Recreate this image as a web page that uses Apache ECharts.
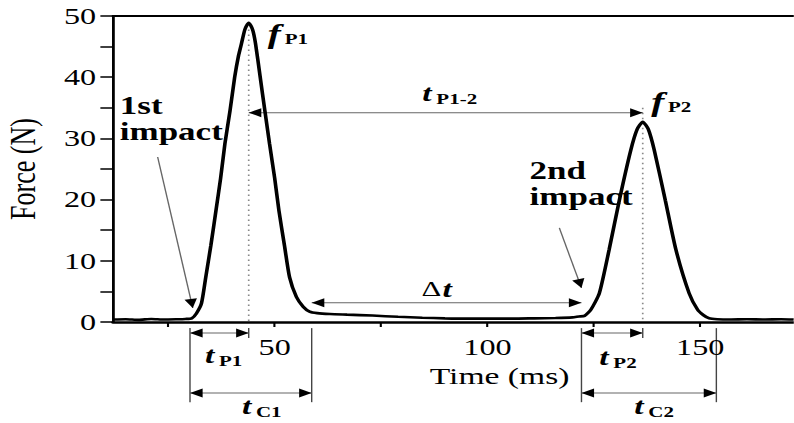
<!DOCTYPE html>
<html lang="en">

<head>
    <meta charset="UTF-8">
    <title>Force - time curve, two impacts</title>
    <script src="https://cdn.jsdelivr.net/npm/echarts@6/dist/echarts.min.js"></script>
    <style>
        body { margin: 0; background: #fff; }
        /* the source figure is stretched sideways, so the chart is too */
        #main { width: 567px; height: 423px; transform: scaleX(1.4); transform-origin: 0 0; }
    </style>
</head>

<body>
    <div id="main"></div>
    <script>
        // curve (ms, N)
        var time = [12, 15, 18, 21, 24, 27, 29, 30.5, 31.6, 32.8,
            33.8, 35, 36.2, 37.3, 38.3, 39.5, 40.6, 41.5, 42.2, 43,
            43.9, 44.8, 45.5, 46.6, 47.7, 48.8, 50, 51, 52.3, 53.5,
            55.1, 56.7, 58.2, 60, 63, 67, 73, 79, 84.7, 90,
            95, 100.5, 106, 111, 116, 120, 121.5, 122.8, 124.3, 126.3,
            128.6, 131, 133.7, 135.2, 136.5, 137.8, 139.2, 141.8, 144.3, 147.4,
            149.4, 150.8, 152.1, 154, 157, 161, 165, 169, 172];
        var force = [0.4, 0.45, 0.35, 0.5, 0.4, 0.45, 0.5, 0.6, 1.4, 3.05,
            7.3, 12.5, 18.2, 23.5, 29.1, 34.5, 40, 43.5, 45.5, 47.8,
            48.9, 47.8, 45.5, 40, 34.5, 29.1, 23.5, 18.2, 12.5, 7.3,
            4.1, 2.5, 1.7, 1.45, 1.3, 1.2, 1.05, 0.85, 0.7, 0.6,
            0.55, 0.55, 0.55, 0.6, 0.65, 0.75, 0.9, 1.0, 2, 4.7,
            11.8, 19.9, 28.1, 31.5, 32.7, 31.5, 28.1, 19.9, 11.8, 4.7,
            2, 1.1, 0.6, 0.45, 0.4, 0.45, 0.4, 0.45, 0.4];
        var xTicks = [25, 50, 75, 100, 125, 150];
        var xLabels = [50, 100, 150];
        // impact timings (ms)
        var onsetT = [30.1, 122.1];
        var peakT = [43.9, 136.5];
        var endT = [58.7, 153.8];

        var serif = '"Liberation Serif", "Times New Roman", serif';
        var myChart = echarts.init(document.getElementById('main'), null, { renderer: 'svg' });

        var option = {
            animation: false,
            grid: { left: 80.7, right: 0, top: 16, bottom: 101, outerBoundsMode: 'none' },
            xAxis: [{
                type: 'value',
                min: 12,
                max: 172,
                position: 'bottom',
                axisLine: { onZero: false, lineStyle: { color: '#000', width: 2.5 } },
                axisTick: { customValues: xTicks, length: 5, lineStyle: { color: '#000', width: 1.5 } },
                axisLabel: { customValues: xLabels, margin: 14, fontFamily: serif, fontSize: 23, color: '#000' },
                splitLine: { show: false },
                name: 'Time (ms)',
                nameLocation: 'middle',
                nameGap: 42,
                nameTextStyle: { fontFamily: serif, fontSize: 24, color: '#000', padding: [0, 0, 0, 66] }
            }, {
                type: 'value',
                min: 12,
                max: 172,
                position: 'top',
                axisLine: { onZero: false, lineStyle: { color: '#000', width: 2 } },
                axisTick: { show: false },
                axisLabel: { show: false },
                splitLine: { show: false }
            }],
            yAxis: {
                type: 'value',
                min: 0,
                max: 50,
                interval: 10,
                axisLine: { show: true, onZero: false, lineStyle: { color: '#000', width: 2 } },
                axisTick: { length: 9, lineStyle: { color: '#000', width: 1.5 } },
                minorTick: { show: true, splitNumber: 2, length: 9, lineStyle: { color: '#000', width: 1.5 } },
                axisLabel: { margin: 12, fontFamily: serif, fontSize: 23, color: '#000' },
                splitLine: { show: false },
                name: 'Force (N)',
                nameLocation: 'middle',
                nameGap: 51,
                nameTextStyle: { fontFamily: serif, fontSize: 26, color: '#000' }
            },
            series: [{
                type: 'line',
                data: time.map(function (t, i) { return [t, force[i]]; }),
                showSymbol: false,
                smooth: 0.2,
                silent: true,
                lineStyle: { color: '#000', width: 2.6 }
            }]
        };
        myChart.setOption(option);

        // annotations, placed in data units
        function pt(t, v) { return myChart.convertToPixel({ seriesIndex: 0 }, [t, v]); }
        var g = [];
        function seg(a, b, style) {
            g.push({
                type: 'line', silent: true,
                shape: { x1: a[0], y1: a[1], x2: b[0], y2: b[1] },
                style: Object.assign({ stroke: '#666', lineWidth: 1 }, style || {})
            });
        }
        function head(tip, from) {
            var dx = tip[0] - from[0], dy = tip[1] - from[1];
            var len = Math.sqrt(dx * dx + dy * dy);
            var ux = dx / len, uy = dy / len, L = 9, W = 4.5;
            var bx = tip[0] - ux * L, by = tip[1] - uy * L;
            g.push({
                type: 'polygon', silent: true,
                shape: { points: [tip, [bx - uy * W, by + ux * W], [bx + uy * W, by - ux * W]] },
                style: { fill: '#000' }
            });
        }
        function arrow(t0, v0, t1, v1, both) {
            var a = pt(t0, v0), b = pt(t1, v1);
            seg(a, b);
            head(b, a);
            if (both) head(a, b);
        }
        function text(p, s, st) {
            g.push({
                type: 'text', silent: true, x: p[0], y: p[1],
                style: Object.assign({
                    text: s, fill: '#000', fontFamily: serif, fontSize: 24,
                    align: 'left', verticalAlign: 'middle', textAlign: 'left', textVerticalAlign: 'middle'
                }, st || {})
            });
        }
        // italic letter with a bold subscript
        function symbol(t, v, letter, sub, dx) {
            var p = pt(t, v);
            text(p, letter, { fontStyle: 'italic', fontWeight: 'bold', fontSize: letter == 'f' ? 28 : 24, lineHeight: 20 });
            text([p[0] + dx, p[1] + 6], sub, { fontWeight: 'bold', fontSize: 15, lineHeight: 14 });
        }

        // dotted lines through the peaks
        seg(pt(peakT[0], 47.8), pt(peakT[0], 0), { stroke: '#888', lineWidth: 1.2, lineDash: [1.5, 3.5] });
        seg(pt(peakT[1], 35), pt(peakT[1], 0), { stroke: '#888', lineWidth: 1.2, lineDash: [1.5, 3.5] });

        // t P1-2 and delta t
        arrow(peakT[0], 34.2, peakT[1], 34.2, true);
        arrow(endT[0], 3.15, onsetT[1], 3.15, true);

        // impact pointers
        arrow(22.5, 26.96, 30.75, 2.29, false);
        arrow(116.9, 15.36, 122.1, 5.56, false);

        // brackets under the axis
        for (var i = 0; i < 2; i++) {
            seg(pt(onsetT[i], -1), pt(onsetT[i], -13.1), { stroke: '#444' });
            seg(pt(endT[i], -1), pt(endT[i], -13.1), { stroke: '#444' });
            seg(pt(peakT[i], -1), pt(peakT[i], -2.6), { stroke: '#444' });
            arrow(onsetT[i], -1.8, peakT[i], -1.8, true);
            arrow(onsetT[i], -11.6, endT[i], -11.6, true);
        }

        symbol(48.4, 47.2, 'f', 'P1', 12);
        symbol(138.5, 36.1, 'f', 'P2', 12);
        symbol(84.7, 37.4, 't', 'P1-2', 10);
        symbol(33.6, -5.4, 't', 'P1', 10);
        symbol(42.3, -13.7, 't', 'C1', 10);
        symbol(126.3, -5.7, 't', 'P2', 10);
        symbol(134.5, -13.7, 't', 'C2', 10);

        var dp = pt(84.5, 5.4);
        text(dp, '\u0394', { fontSize: 22 });
        text([dp[0] + 15, dp[1]], 't', { fontStyle: 'italic', fontWeight: 'bold' });

        text(pt(13.6, 37.4), '1st\nimpact', { fontWeight: 'bold', fontSize: 25, lineHeight: 26, verticalAlign: 'top', textVerticalAlign: 'top' });
        text(pt(109.9, 26.8), '2nd\nimpact', { fontWeight: 'bold', fontSize: 25, lineHeight: 26, verticalAlign: 'top', textVerticalAlign: 'top' });

        myChart.setOption({ graphic: g });
    </script>
</body>

</html>
